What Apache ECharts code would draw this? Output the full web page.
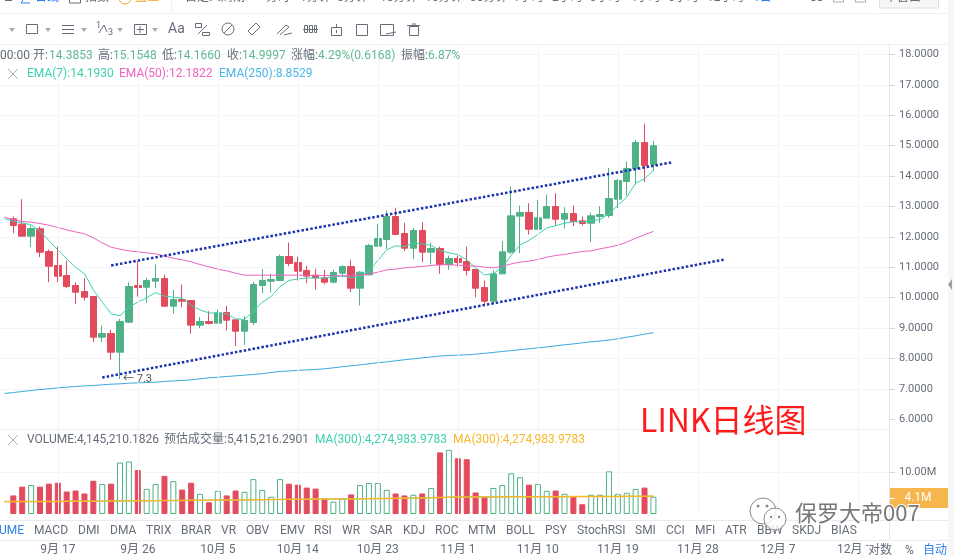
<!DOCTYPE html>
<html>
<head>
    <meta charset="utf-8"/>
    <style>
        html, body {
            width: 954px;
            height: 556px;
            margin: 0;
            padding: 0;
            background: #fff;
            overflow: hidden;
        }

        .container {
            width: 954px;
            height: 556px;
        }
    </style>
</head>

<body>
<div id="main" class="container"></div>
<script src="https://cdn.jsdelivr.net/npm/echarts@6/dist/echarts.min.js"></script>
<script type="text/javascript">
// 日期：第一天只给均线用，最后几天没有K线，只占位置
var categories = [
    '9月 11','9月 12','9月 13','9月 14','9月 15','9月 16','9月 17','9月 18','9月 19','9月 20','9月 21','9月 22','9月 23','9月 24','9月 25','9月 26','9月 27','9月 28','9月 29','9月 30',
    '10月 1','10月 2','10月 3','10月 4','10月 5','10月 6','10月 7','10月 8','10月 9','10月 10','10月 11','10月 12','10月 13','10月 14','10月 15','10月 16','10月 17','10月 18','10月 19','10月 20','10月 21','10月 22','10月 23','10月 24','10月 25','10月 26','10月 27','10月 28','10月 29','10月 30','10月 31',
    '11月 1','11月 2','11月 3','11月 4','11月 5','11月 6','11月 7','11月 8','11月 9','11月 10','11月 11','11月 12','11月 13','11月 14','11月 15','11月 16','11月 17','11月 18','11月 19','11月 20','11月 21','11月 22','11月 23','11月 24','11月 25','11月 26','11月 27','11月 28','11月 29','11月 30',
    '12月 1','12月 2','12月 3','12月 4','12月 5','12月 6','12月 7','12月 8','12月 9','12月 10','12月 11','12月 12','12月 13','12月 14','12月 15','12月 16','12月 17','12月 18','12月 19'
];
var tickDates = ['9月 17','9月 26','10月 5','10月 14','10月 23','11月 1','11月 10','11月 19','11月 28','12月 7','12月 16'];

// K线从 9月12 开始
var opens = [12.594,12.419,12.024,12.265,11.519,11.059,10.730,10.401,10.204,10.039,8.701,8.822,8.208,9.195,10.401,10.346,10.544,10.631,9.721,9.940,9.908,9.096,9.217,9.162,9.513,9.272,8.899,
    9.184,10.401,10.544,10.565,11.355,11.158,10.895,10.741,10.653,10.511,10.807,11.026,10.313,10.752,11.695,11.914,12.671,12.112,11.629,12.210,11.498,11.618,11.092,11.289,11.190,10.927,
    10.336,9.886,10.785,11.498,12.682,12.803,12.254,12.616,13.000,12.583,12.770,12.529,12.452,12.671,12.704,13.241,13.822,14.239,15.105,14.3853];
var closes = [12.375,12.024,12.276,11.498,11.037,10.708,10.368,10.182,10.017,8.701,8.822,8.208,9.217,10.368,10.335,10.565,10.631,9.721,9.940,9.886,9.096,9.217,9.151,9.502,9.261,8.899,9.250,
    10.434,10.565,10.598,11.355,11.125,10.873,10.708,10.653,10.511,10.829,11.026,10.313,10.840,11.717,11.947,12.671,12.079,11.629,12.210,11.498,11.618,11.092,11.289,11.158,10.895,10.313,
    9.886,10.785,11.509,12.693,12.803,12.254,12.627,13.000,12.583,12.770,12.507,12.441,12.693,12.737,13.263,13.855,14.250,15.105,14.349,14.9997];
var lows = [12.122,12.024,11.662,11.333,10.511,10.511,10.313,9.798,9.908,8.537,8.537,7.956,7.320,9.173,10.039,9.831,10.313,9.710,9.469,9.688,8.811,8.997,9.118,9.162,8.921,8.405,8.449,
    9.090,10.149,10.171,10.544,11.037,10.565,10.478,10.269,10.434,10.478,10.675,10.182,9.743,10.730,11.684,11.607,12.079,11.530,11.278,11.169,11.092,10.785,10.916,11.026,10.730,10.017,
    9.743,9.798,10.785,11.443,11.465,12.079,12.233,12.616,12.375,12.276,12.353,12.375,11.827,12.452,12.627,12.945,13.362,13.724,13.800,14.166];
var highs = [12.671,13.241,12.375,12.342,11.585,11.684,11.223,10.511,10.642,10.039,9.085,8.943,9.304,10.500,11.201,10.653,11.092,10.763,10.258,10.434,9.908,9.359,9.557,9.612,9.732,9.272,9.403,
    10.522,10.938,10.785,11.421,11.815,11.355,11.048,10.949,10.916,10.916,11.059,11.245,10.873,11.772,12.430,12.868,12.956,12.462,12.298,12.484,11.815,11.684,11.388,11.388,11.684,10.927,
    10.566,10.895,11.860,13.658,13.033,13.110,13.219,13.395,13.439,12.978,13.033,12.671,12.803,13.011,14.272,13.910,14.480,15.193,15.719,15.1548];

// 均线从 9月11 开始
var ema7 = [12.600,12.517,12.462,12.397,12.188,11.881,11.574,11.278,11.004,10.785,10.258,9.853,9.469,9.403,9.688,9.853,9.995,10.171,10.050,10.017,9.984,9.743,9.600,9.502,9.491,9.469,9.304,9.282,
    9.557,9.853,10.039,10.368,10.565,10.620,10.642,10.653,10.642,10.697,10.719,10.653,10.697,10.873,11.223,11.574,11.706,11.684,11.794,11.772,11.717,11.552,11.476,11.421,11.245,10.980,
    10.750,10.785,11.004,11.388,11.739,11.882,12.079,12.298,12.364,12.452,12.496,12.496,12.529,12.572,12.759,13.033,13.307,13.768,13.910,14.1930];
var ema50 = [12.650,12.572,12.506,12.484,12.440,12.386,12.309,12.232,12.166,12.101,11.969,11.804,11.662,11.596,11.541,11.508,11.476,11.443,11.366,11.300,11.245,11.180,11.092,11.015,10.938,10.883,10.807,10.741,
    10.741,10.741,10.741,10.741,10.741,10.741,10.730,10.730,10.730,10.719,10.719,10.730,10.741,10.774,10.840,10.916,10.938,10.982,11.004,11.026,11.059,11.081,11.081,11.070,11.048,11.040,
    11.004,10.982,11.026,11.114,11.169,11.202,11.257,11.333,11.388,11.421,11.476,11.520,11.542,11.608,11.662,11.728,11.827,11.958,12.068,12.1822];
var ema250 = [6.850,6.881,6.914,6.947,6.980,7.002,7.035,7.057,7.079,7.101,7.112,7.134,7.155,7.166,7.188,7.199,7.210,7.221,7.243,7.265,7.276,7.298,7.331,7.364,7.386,7.408,7.430,7.452,
    7.474,7.50,7.54,7.573,7.59,7.61,7.628,7.64,7.66,7.693,7.73,7.76,7.79,7.825,7.86,7.89,7.924,7.96,7.99,8.022,8.05,8.08,8.099,8.11,8.12,8.143,
    8.17,8.20,8.231,8.26,8.29,8.318,8.35,8.38,8.417,8.45,8.48,8.516,8.55,8.575,8.604,8.65,8.70,8.746,8.80,8.8529];

// 成交量，单位 M，从 9月12 开始
var volumes = [4.45,6.56,6.95,6.56,7.27,7.50,5.39,5.63,4.92,7.97,7.19,7.27,12.34,12.58,10.55,6.02,7.19,9.14,7.89,5.86,7.50,4.84,2.81,5.55,4.45,5.63,5.31,8.36,5.78,4.14,8.36,7.27,7.03,6.33,6.09,3.67,2.97,
    3.59,4.69,6.95,7.42,7.42,5.78,4.92,4.45,4.61,4.92,6.25,14.77,15.39,13.36,13.13,5.16,4.14,6.25,6.95,9.77,8.83,7.03,7.19,5.55,5.63,4.84,4.14,2.34,4.61,4.61,10.23,4.84,5.08,6.02,6.33,4.145];
// 成交量均线从 9月11 开始
var volumeMa = [2.97,2.97,2.97,2.98,2.99,3.00,3.02,3.03,3.05,3.06,3.08,3.09,3.11,3.13,3.15,3.16,3.18,3.20,3.22,3.24,3.26,3.28,3.30,3.31,3.33,3.35,3.37,3.39,3.42,3.44,3.47,3.49,3.52,3.54,3.55,3.57,3.58,3.59,
    3.60,3.62,3.64,3.67,3.70,3.73,3.76,3.79,3.82,3.86,3.90,3.95,4.00,4.05,4.07,4.08,4.09,4.10,4.11,4.12,4.13,4.13,4.14,4.14,4.15,4.16,4.17,4.18,4.19,4.20,4.21,4.22,4.23,4.24,4.26,4.27];

// 手画的两条趋势线
var upperTrendDates = ['9月 23', '11月 25'];
var upperTrendValues = [11.059, 14.447];
var lowerTrendDates = ['9月 22', '12月 1'];
var lowerTrendValues = [7.375, 11.257];

var priceTicks = [6,7,8,9,10,11,12,13,14,15,16,17,18];
var volumeTicks = [10];
var indicatorTabs = ['VOLUME','MACD','DMI','DMA','TRIX','BRAR','VR','OBV','EMV','RSI','WR','SAR','KDJ','ROC','MTM','BOLL','PSY','StochRSI','SMI','CCI','MFI','ATR','BBW','SKDJ','BIAS'];
var tabLefts = [-23,34,78,110,146,181,221,246,280,314,342,370,403,435,468,506,545,577,635,666,695,725,757,792,831];
var periods = ['分时','1分钟','5分钟','10分钟','15分钟','30分钟','1小时','2小时','3小时','4小时','6小时','12小时','1日'];
var periodLefts = [266,300,337,380,425,470,513,552,590,630,668,707,753];

var UP = '#4fb286';
var DOWN = '#e24b5d';
var GRID = '#f2f5f9';
var TEXT = '#666d7a';
var FONT = 'Roboto, "Noto Sans CJK SC", sans-serif';

function txt(str, x, y, color, size, extra) {
    var style = {text: str, x: x, y: y, fill: color || TEXT, font: (size || 12) + 'px ' + FONT, verticalAlign: 'middle'};
    for (var k in extra) {
        style[k] = extra[k];
    }
    return {type: 'text', z: 100, silent: true, style: style};
}

function box(x, y, w, h, fill, stroke) {
    return {type: 'rect', z: 99, silent: true, shape: {x: x, y: y, width: w, height: h},
        style: {fill: fill || 'none', stroke: stroke || null, lineWidth: 1}};
}

function seg(x1, y1, x2, y2, color) {
    return {type: 'line', z: 100, silent: true, shape: {x1: x1, y1: y1, x2: x2, y2: y2},
        style: {stroke: color || TEXT, lineWidth: 1}};
}

function ring(cx, cy, r, fill, stroke) {
    return {type: 'circle', z: 101, silent: true, shape: {cx: cx, cy: cy, r: r},
        style: {fill: fill || 'none', stroke: stroke || null, lineWidth: 1}};
}

function caret(x) {
    return {type: 'polygon', z: 100, silent: true, shape: {points: [[x - 3, 28], [x + 3, 28], [x, 32]]}, style: {fill: '#a8adb5'}};
}

function crossMark(x, y) {
    return [seg(x - 5, y - 5, x + 5, y + 5, '#a8adb5'), seg(x + 5, y - 5, x - 5, y + 5, '#a8adb5')];
}

function buildGraphic() {
    var g = [];
    // 顶部白底盖住网格线
    g.push(box(0, 0, 954, 45, '#fff'));
    g.push(box(948, 0, 6, 556, '#f6f6f6'));
    g.push(seg(0, 13.5, 948, 13.5, '#eef0f3'));
    g.push(seg(0, 44.5, 948, 44.5, '#eef0f3'));
    g.push(seg(0, 429.5, 889, 429.5, '#eef0f3'));
    g.push(seg(0, 520.5, 948, 520.5, '#e8eaee'));
    g.push(seg(0, 540.5, 948, 540.5, '#e8eaee'));
    g.push(seg(889.5, 45, 889.5, 540, '#e3e6ea'));
    g.push(seg(171.5, 0, 171.5, 13, '#eef0f3'));

    // 第一行，只露出下半截
    g.push(seg(5, 0.5, 12, 0.5));
    g.push(seg(21, 3, 30, 3, '#2f80ed'), seg(21, 3, 25, -3, '#2f80ed'));
    g.push(txt('日线', 35, -2, '#2f80ed', 12));
    g.push(box(69.5, -8, 11, 11, null, TEXT));
    g.push(txt('指数', 85, -2, TEXT, 12));
    g.push(ring(125, -2, 6, null, '#f5a623'));
    g.push(txt('盘王', 135, -2, '#f5a623', 12));
    g.push(txt('自定义周期', 185, -2, TEXT, 12));
    for (var i = 0; i < periods.length; i++) {
        g.push(txt(periods[i], periodLefts[i], -2, i == periods.length - 1 ? '#2f80ed' : TEXT, 12));
    }
    g.push(txt('88', 810, -2, TEXT, 12));
    g.push(box(833.5, -6, 10, 8, null, '#a8adb5'));
    g.push(box(855.5, -6, 10, 8, null, '#a8adb5'));
    g.push(box(879.5, -8, 59, 16, '#f7f7f7', '#dcdfe3'));
    g.push(txt('单窗口', 885, -2, TEXT, 12));

    // 画图工具条
    g.push(caret(12));
    g.push(box(26.5, 24.5, 11, 9, null, TEXT));
    g.push(caret(48));
    g.push(seg(62, 25.5, 74, 25.5), seg(62, 29.5, 74, 29.5), seg(62, 33.5, 74, 33.5));
    g.push(caret(84));
    g.push(txt('1', 96, 26, TEXT, 9), seg(99, 33, 104, 25), seg(104, 25, 107, 32), txt('3', 108, 33, TEXT, 9));
    g.push(caret(120));
    g.push(box(134.5, 24.5, 12, 10, null, TEXT), seg(140, 26, 140, 33), seg(137, 29.5, 144, 29.5));
    g.push(caret(155));
    g.push(txt('Aa', 168, 29, TEXT, 14));
    g.push(box(195.5, 23.5, 6, 4, null, TEXT), seg(198, 34, 207, 25), box(202.5, 32.5, 7, 3, null, TEXT));
    g.push({type: 'circle', z: 100, silent: true, shape: {cx: 228, cy: 29, r: 6}, style: {fill: 'none', stroke: TEXT, lineWidth: 1}}, seg(224, 33, 232, 25));
    g.push(seg(248, 31, 256, 23), seg(252, 35, 260, 27), seg(248, 31, 252, 35), seg(256, 23, 260, 27));
    g.push(seg(277, 34, 286, 25), seg(280, 35, 289, 27), seg(286, 25, 289, 27), seg(284, 35, 292, 33));
    g.push(box(304.5, 25.5, 3, 7, null, TEXT), box(309.5, 25.5, 3, 7, null, TEXT), box(314.5, 25.5, 2, 7, null, TEXT), seg(303, 29.5, 318, 29.5));
    g.push(box(331.5, 27.5, 10, 8, null, TEXT), seg(336.5, 24, 336.5, 28), seg(336.5, 30, 336.5, 33));
    g.push(box(356.5, 24.5, 11, 11, null, TEXT));
    g.push(box(380.5, 24.5, 13, 11, null, TEXT), seg(386, 34, 396, 32));
    g.push(seg(407, 25.5, 420, 25.5), box(409.5, 26.5, 9, 9, null, TEXT), seg(412, 24, 416, 24));

    // 行情信息
    var val = '#5fb98f';
    g.push(txt('00:00', 0, 56));
    g.push(txt('开:', 33, 56), txt('14.3853', 49, 56, val));
    g.push(txt('高:', 98, 56), txt('15.1548', 113, 56, val));
    g.push(txt('低:', 162, 56), txt('14.1660', 177, 56, val));
    g.push(txt('收:', 227, 56), txt('14.9997', 242, 56, val));
    g.push(txt('涨幅:', 291, 56), txt('4.29%(0.6168)', 318, 56, val));
    g.push(txt('振幅:', 401, 56), txt('6.87%', 428, 56, val));
    g = g.concat(crossMark(13, 74));
    g.push(txt('EMA(7):14.1930', 27, 74, '#3ed1ae'));
    g.push(txt('EMA(50):12.1822', 119, 74, '#ee62c0'));
    g.push(txt('EMA(250):8.8529', 219, 74, '#4bb4e6'));

    g = g.concat(crossMark(13, 440));
    g.push(txt('VOLUME:4,145,210.1826', 27, 440));
    g.push(txt('预估成交量:5,415,216.2901', 164, 440));
    g.push(txt('MA(300):4,274,983.9783', 315, 440, '#3ed1ae'));
    g.push(txt('MA(300):4,274,983.9783', 453, 440, '#f9b82a'));

    // 指标切换
    for (var j = 0; j < indicatorTabs.length; j++) {
        g.push(txt(indicatorTabs[j], tabLefts[j], 531, j == 0 ? '#2f80ed' : TEXT));
    }

    // 右下角
    g.push(box(868, 541, 80, 15, '#fff'));
    g.push(txt('对数', 868, 551));
    g.push(txt('%', 905, 551));
    g.push(txt('自动', 923, 551, '#2f80ed'));

    // 当前成交量
    g.push(box(889, 488, 59, 20, '#f6b64e'));
    g.push(seg(889, 498.5, 895, 498.5, '#fff'));
    g.push(txt('4.1M', 918, 498, '#fff', 12, {align: 'center'}));

    // 右侧小箭头
    g.push({type: 'polygon', z: 100, silent: true, shape: {points: [[952, 279], [952, 290], [948, 284.5]]}, style: {fill: '#9aa0a8'}});

    // 加上去的文字
    g.push({type: 'text', z: 101, silent: true, style: {text: 'LINK日线图', x: 640, y: 420, fill: '#ff1a1a',
        font: '32px "Noto Sans CJK SC", sans-serif', verticalAlign: 'middle'}});

    // 水印
    g.push(ring(763, 511, 13, 'rgba(255,255,255,.6)', '#8a8a8a'));
    g.push(ring(775, 519, 11, 'rgba(255,255,255,.8)', '#8a8a8a'));
    g.push(ring(758, 506, 1.5, '#8a8a8a'), ring(767, 506, 1.5, '#8a8a8a'), ring(771, 517, 1.2, '#8a8a8a'), ring(779, 517, 1.2, '#8a8a8a'));
    g.push({type: 'text', z: 101, silent: true, style: {text: '保罗大帝007', x: 795, y: 513, fill: '#777',
        font: '22px "Noto Sans CJK SC", sans-serif', verticalAlign: 'middle', stroke: '#fff', lineWidth: 2}});
    return g;
}

function createChart() {
    var myChart = echarts.init(document.getElementById('main'));

    // 第一格留空，K线和成交量从第二格开始
    var candles = [['-', '-', '-', '-']];
    var volumeItems = ['-'];
    for (var i = 0; i < opens.length; i++) {
        candles.push([opens[i], closes[i], lows[i], highs[i]]);
        var up = closes[i] >= opens[i];
        volumeItems.push({
            value: volumes[i],
            itemStyle: up ? {color: '#fff', borderColor: UP, borderWidth: 1} : {color: DOWN, borderColor: DOWN, borderWidth: 1}
        });
    }

    var gridLineMarks = tickDates.map(function (d) {
        return {xAxis: categories.indexOf(d)};
    });
    var priceLineColors = [];
    for (var p = 5; p <= 19; p++) {
        priceLineColors.push(p == 5 || p == 19 ? 'rgba(0,0,0,0)' : GRID);
    }

    function guideSeries(axisIndex) {
        return {
            type: 'line', xAxisIndex: axisIndex, yAxisIndex: axisIndex, z: 0, silent: true, symbol: 'none',
            data: [],
            markLine: {
                silent: true, symbol: 'none', label: {show: false}, animation: false, precision: 4,
                lineStyle: {color: GRID, width: 1, type: 'solid'},
                data: gridLineMarks
            }
        };
    }

    function emaSeries(name, data, color) {
        return {name: name, type: 'line', data: data, symbol: 'none', smooth: false, z: 4,
            lineStyle: {color: color, width: 1}};
    }

    function trendSeries(dates, values) {
        return {
            type: 'line', data: [], symbol: 'none', z: 5, silent: true,
            markLine: {
                silent: true, symbol: 'none', label: {show: false}, animation: false, precision: 4,
                lineStyle: {color: '#1c34ab', width: 2.5, type: [2.5, 2]},
                data: [[
                    {coord: [categories.indexOf(dates[0]), values[0]]},
                    {coord: [categories.indexOf(dates[1]), values[1]]}
                ]]
            }
        };
    }

    var option = {
        animation: false,
        backgroundColor: '#fff',
        axisPointer: {show: false},
        grid: [
            // 主图按 5 到 19 排刻度，18 落在 y=54.5，每格 30.4 像素
            {left: -9, width: 898, top: 24.1, height: 425.6},
            {left: -9, width: 898, top: 430.6, height: 85.4}
        ],
        xAxis: [
            {type: 'category', gridIndex: 0, data: categories, boundaryGap: true,
                axisLine: {show: false}, axisTick: {show: false}, axisLabel: {show: false}, splitLine: {show: false}},
            {type: 'category', gridIndex: 1, data: categories, boundaryGap: true,
                axisLine: {show: false}, axisTick: {show: false}, splitLine: {show: false},
                axisLabel: {
                    color: TEXT, fontSize: 12, fontFamily: FONT, margin: 30, hideOverlap: false,
                    interval: function (index, name) {
                        return tickDates.indexOf(name) >= 0;
                    }
                }}
        ],
        yAxis: [
            {type: 'value', gridIndex: 0, position: 'right', min: 5, max: 19, interval: 1, scale: true,
                axisLine: {show: false},
                axisTick: {show: true, length: 6, lineStyle: {color: '#cfd3d8'}, customValues: priceTicks},
                axisLabel: {
                    color: TEXT, fontSize: 11, fontFamily: FONT, margin: 10, customValues: priceTicks,
                    formatter: function (v) {
                        return v.toFixed(4);
                    }
                },
                splitLine: {show: true, lineStyle: {color: priceLineColors, width: 1}}},
            {type: 'value', gridIndex: 1, position: 'right', min: 0, max: 20, interval: 10,
                axisLine: {show: false},
                axisTick: {show: true, length: 6, lineStyle: {color: '#cfd3d8'}, customValues: volumeTicks},
                axisLabel: {
                    color: TEXT, fontSize: 11, fontFamily: FONT, margin: 10, customValues: volumeTicks,
                    formatter: function (v) {
                        return v.toFixed(2) + 'M';
                    }
                },
                splitLine: {show: true, lineStyle: {color: GRID, width: 1}}}
        ],
        graphic: {elements: buildGraphic()},
        series: [
            guideSeries(0),
            guideSeries(1),
            {
                name: 'K', type: 'candlestick', data: candles, barWidth: 7, z: 3,
                itemStyle: {color: UP, color0: DOWN, borderColor: UP, borderColor0: DOWN, borderWidth: 1},
                markPoint: {
                    silent: true, symbol: 'circle', symbolSize: 0, animation: false,
                    label: {show: true, position: 'right', distance: 0, offset: [3, 0], color: '#555', fontSize: 11, fontFamily: FONT, formatter: '← 7.3'},
                    data: [{coord: [categories.indexOf('9月 24'), lows[12]]}]
                }
            },
            emaSeries('EMA(7)', ema7, '#3ed1ae'),
            emaSeries('EMA(50)', ema50, '#ee62c0'),
            emaSeries('EMA(250)', ema250, '#3aa9de'),
            trendSeries(upperTrendDates, upperTrendValues),
            trendSeries(lowerTrendDates, lowerTrendValues),
            {
                name: 'VOLUME', type: 'bar', xAxisIndex: 1, yAxisIndex: 1, data: volumeItems, barWidth: 6, z: 3
            },
            {name: 'MA1', type: 'line', xAxisIndex: 1, yAxisIndex: 1, data: volumeMa, symbol: 'none', z: 4,
                lineStyle: {color: '#3ed1ae', width: 1}},
            {name: 'MA2', type: 'line', xAxisIndex: 1, yAxisIndex: 1, data: volumeMa, symbol: 'none', z: 5,
                lineStyle: {color: '#f9b82a', width: 1.5}}
        ]
    };

    myChart.setOption(option);
}

createChart();
</script>
</body>
</html>
